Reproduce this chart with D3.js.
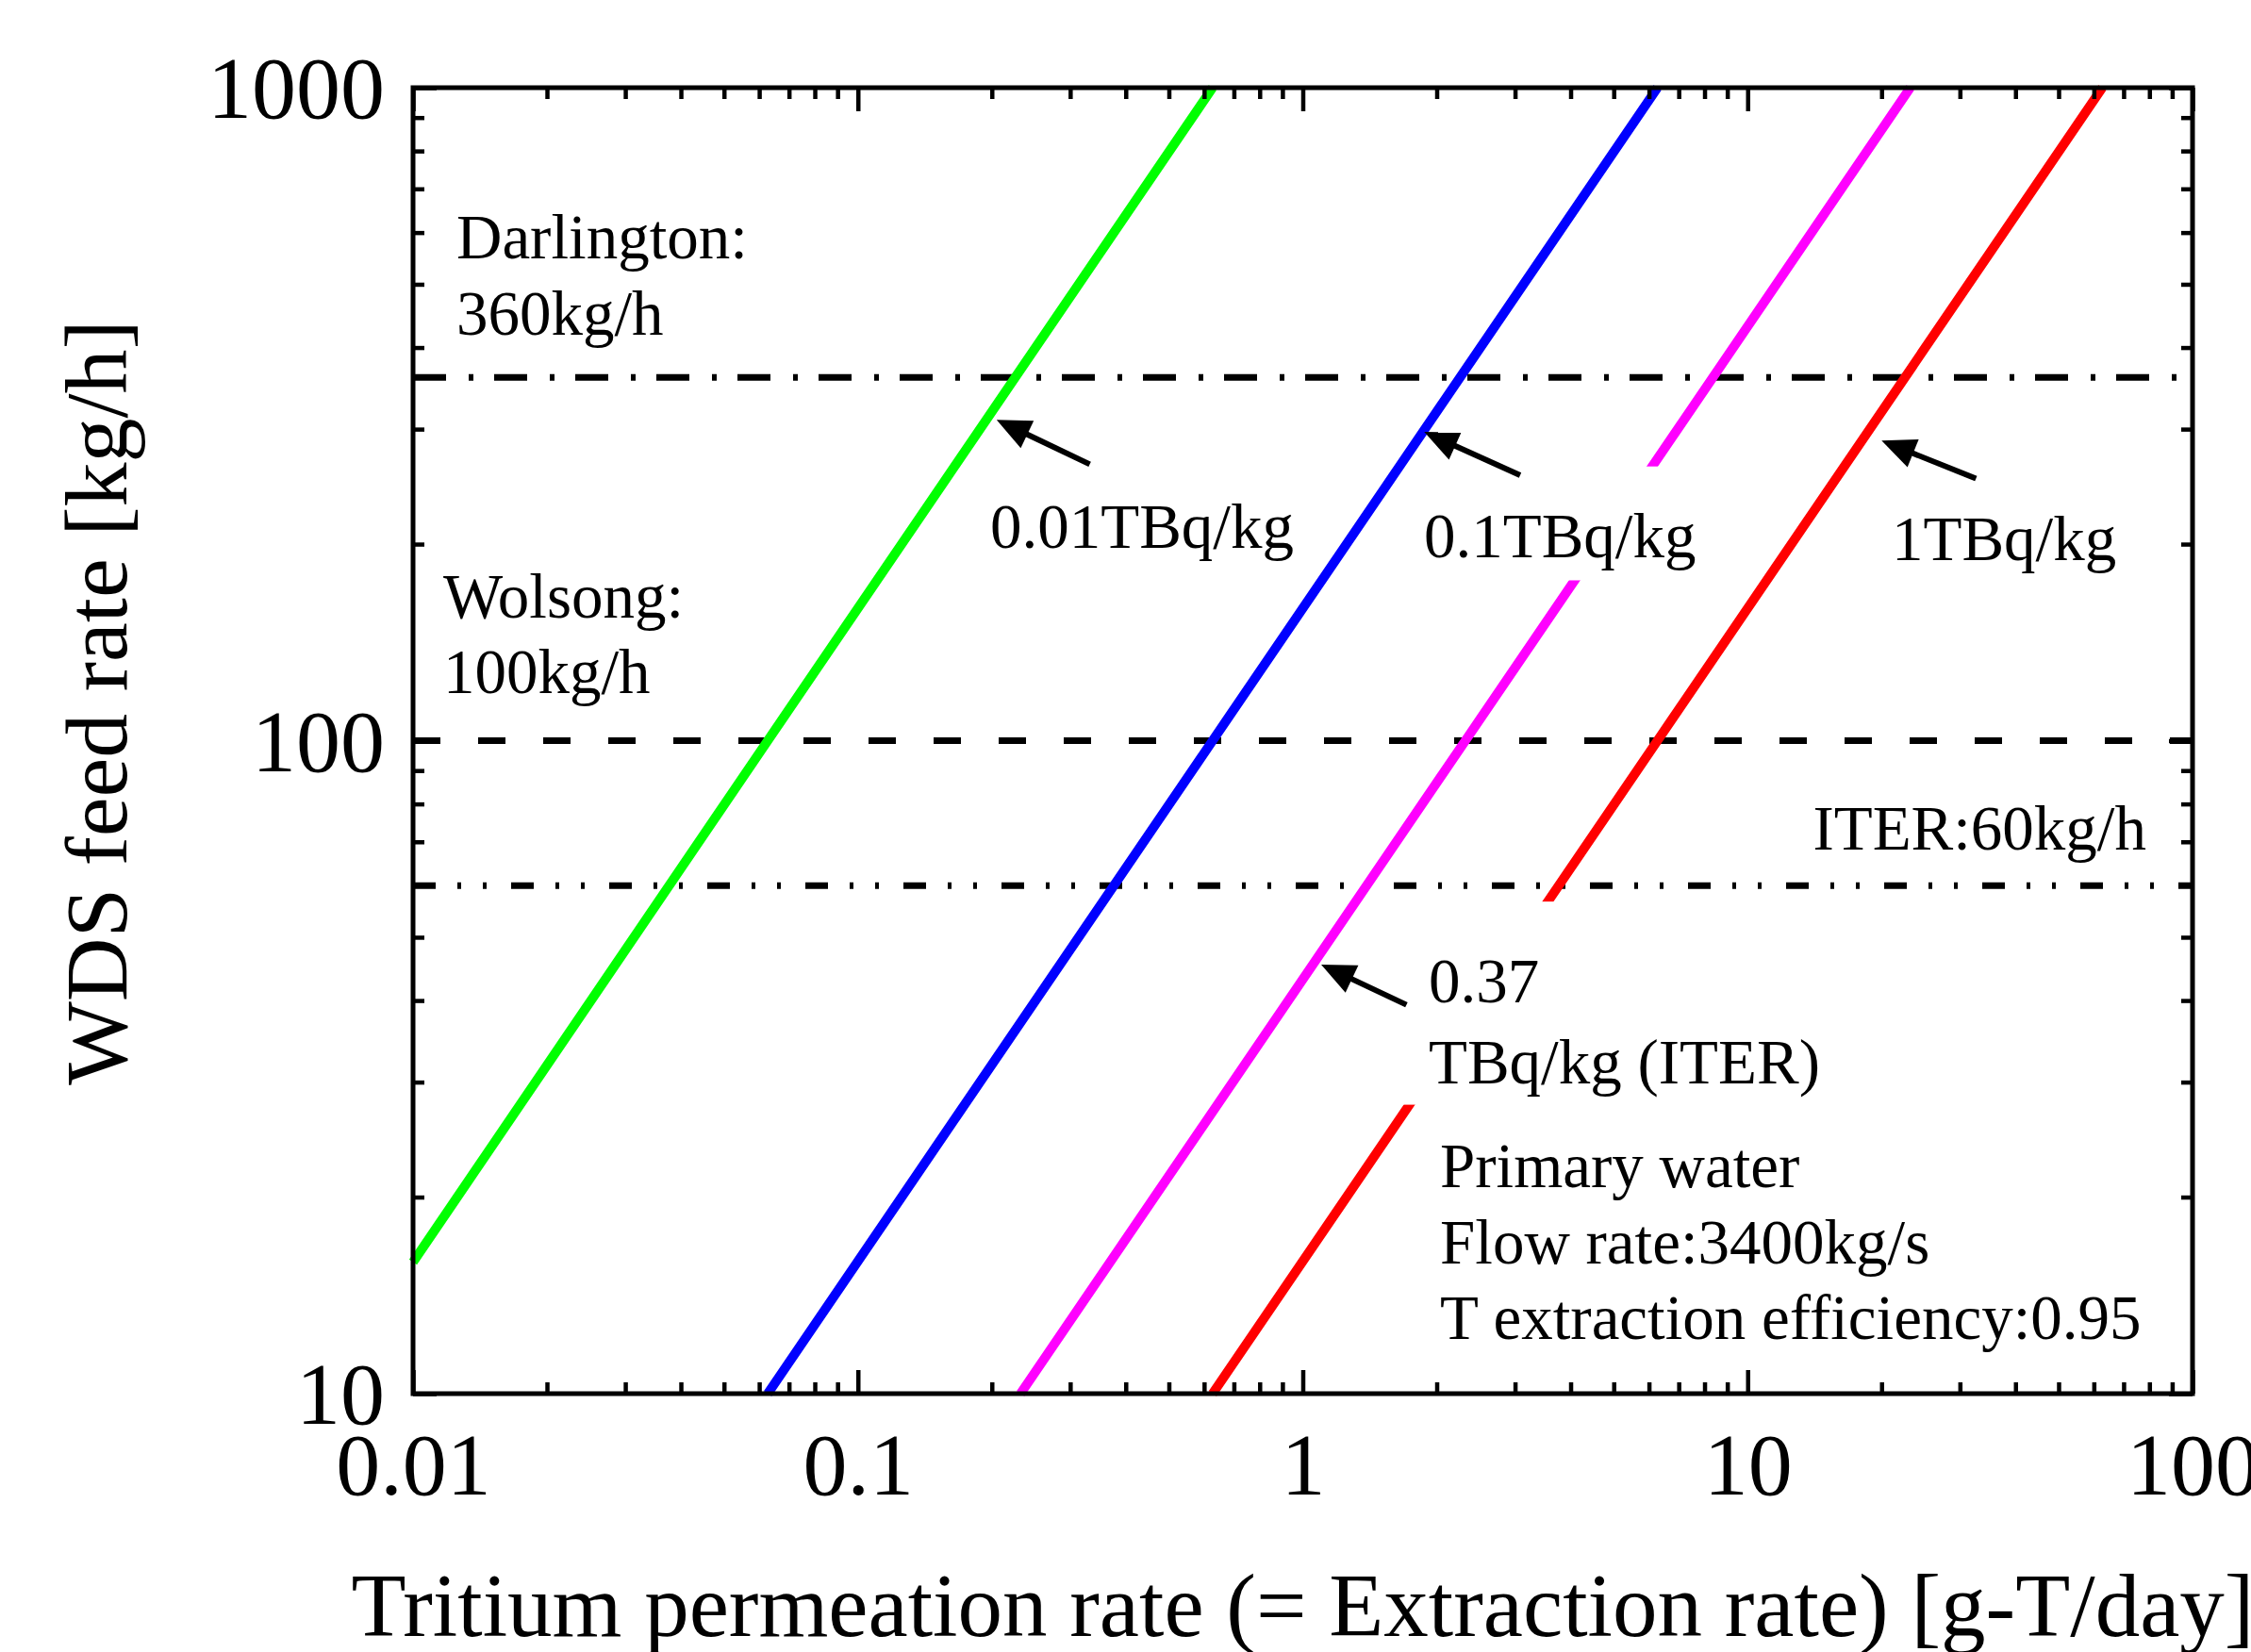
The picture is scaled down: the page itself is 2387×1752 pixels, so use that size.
<!DOCTYPE html>
<html>
<head>
<meta charset="utf-8">
<title>WDS feed rate vs tritium permeation rate</title>
<script src="https://d3js.org/d3.v7.min.js"></script>
<style>
    body { margin: 0; background: #fff; overflow: hidden; }
    svg { display: block; }
    text { font-family: "Liberation Serif", "Times New Roman", serif; fill: #000; }
</style>
</head>
<body>
<svg width="2387" height="1752"></svg>
<script>
// series: tritium permeation rate [g-T/day] vs WDS feed rate [kg/h], per tritium concentration
const rate001 = [0.01, 0.0627, 0.627];
const feed001 = [15.9, 100, 1000];
const rate01  = [0.0627, 0.627, 6.27];
const feed01  = [10, 100, 1000];
const rate037 = [0.232, 2.32, 23.2];
const feed037 = [10, 100, 1000];
const rate1   = [0.627, 6.27, 62.7];
const feed1   = [10, 100, 1000];

// reference feed rates
const refNames  = ['Darlington', 'Wolsong', 'ITER'];
const refValues = [360, 100, 60];

// axis ticks
const xMajor = [0.01, 0.1, 1, 10, 100];
const xLabels = ['0.01', '0.1', '1', '10', '100'];
const yMajor = [10, 100, 1000];
const yLabels = ['10', '100', '1000'];

let svg = d3.select('svg');
let margin = {top: 93, left: 438, right: 62, bottom: 274};
let width = 2387 - margin.left - margin.right;
let height = 1752 - margin.top - margin.bottom;

let g = svg.append('g')
    .attr('transform', `translate(${margin.left}, ${margin.top})`);

let x = d3.scaleLog().domain([0.01, 100]).range([0, width]);
let y = d3.scaleLog().domain([10, 1000]).range([height, 0]);

// minor ticks
let xMinor = [];
for (let d = 0.01; d < 99; d *= 10) for (let k = 2; k <= 9; k++) xMinor.push(+(d * k).toPrecision(3));
let yMinor = [];
for (let d = 10; d < 999; d *= 10) for (let k = 2; k <= 9; k++) yMinor.push(d * k);

// horizontal reference lines (drawn under the curves)
let refDash = {Darlington: '35 24 5 22', Wolsong: '29 40', ITER: '24 23 4 23 4 26'};
g.selectAll('.ref')
    .data(refNames)
    .join('line')
    .attr('class', 'ref')
    .attr('x1', 0).attr('x2', width)
    .attr('y1', (d, i) => y(refValues[i]))
    .attr('y2', (d, i) => y(refValues[i]))
    .style('stroke', '#000')
    .style('stroke-width', 7)
    .style('stroke-dasharray', d => refDash[d]);

// curves
let series = [
    {r: rate001, f: feed001, color: '#00ff00'},
    {r: rate01,  f: feed01,  color: '#0000ff'},
    {r: rate037, f: feed037, color: '#ff00ff'},
    {r: rate1,   f: feed1,   color: '#ff0000'}
];
let line = d3.line().x(d => x(d[0])).y(d => y(d[1]));
g.selectAll('.curve')
    .data(series)
    .join('path')
    .attr('class', 'curve')
    .attr('d', s => line(s.r.map((v, i) => [v, s.f[i]])))
    .style('fill', 'none')
    .style('stroke', s => s.color)
    .style('stroke-width', 10);

// white label boxes that break the lines (in data units)
let boxes = [
    {x0: 1.8, x1: 8.2, y0: 176, y1: 263},
    {x0: 1.65, x1: 17, y0: 27.7, y1: 56.7}
];
g.selectAll('.box')
    .data(boxes)
    .join('rect')
    .attr('x', d => x(d.x0))
    .attr('y', d => y(d.y1))
    .attr('width', d => x(d.x1) - x(d.x0))
    .attr('height', d => y(d.y0) - y(d.y1))
    .style('fill', '#fff');

// axes with inward ticks on every side
function styleAxis(sel) {
    sel.select('.domain').remove();
    sel.selectAll('line').style('stroke', '#000').style('stroke-width', 4.5);
}
g.append('g').attr('transform', `translate(0,${height})`)
    .call(d3.axisBottom(x).tickValues(xMinor).tickSizeInner(-12).tickFormat(''))
    .call(styleAxis);
g.append('g').call(d3.axisTop(x).tickValues(xMinor).tickSizeInner(-12).tickFormat(''))
    .call(styleAxis);
g.append('g').call(d3.axisLeft(y).tickValues(yMinor).tickSizeInner(-12).tickFormat(''))
    .call(styleAxis);
g.append('g').attr('transform', `translate(${width},0)`)
    .call(d3.axisRight(y).tickValues(yMinor).tickSizeInner(-12).tickFormat(''))
    .call(styleAxis);

let xAxis = g.append('g').attr('transform', `translate(0,${height})`)
    .call(d3.axisBottom(x).tickValues(xMajor).tickSizeInner(-25).tickPadding(40)
        .tickFormat((d, i) => xLabels[i]))
    .call(styleAxis);
xAxis.selectAll('text').style('font-size', '94px').style('font-family', '"Liberation Serif", serif');
g.append('g').call(d3.axisTop(x).tickValues(xMajor).tickSizeInner(-25).tickFormat(''))
    .call(styleAxis);

let yAxis = g.append('g')
    .call(d3.axisLeft(y).tickValues(yMajor).tickSizeInner(-25).tickPadding(30)
        .tickFormat((d, i) => yLabels[i]))
    .call(styleAxis);
yAxis.selectAll('text').style('font-size', '94px').style('font-family', '"Liberation Serif", serif')
    .attr('dy', '0.34em');
g.append('g').attr('transform', `translate(${width},0)`)
    .call(d3.axisRight(y).tickValues(yMajor).tickSizeInner(-25).tickFormat(''))
    .call(styleAxis);

// frame
g.append('rect')
    .attr('width', width).attr('height', height)
    .style('fill', 'none').style('stroke', '#000').style('stroke-width', 5);

// axis titles
svg.append('text')
    .attr('x', margin.left + width / 2)
    .attr('y', 1735)
    .attr('text-anchor', 'middle')
    .style('font-size', '95px')
    .text('Tritium permeation rate (= Extraction rate) [g-T/day]');
svg.append('text')
    .attr('transform', 'translate(134,745) rotate(-90)')
    .attr('text-anchor', 'middle')
    .style('font-size', '94px')
    .text('WDS feed rate [kg/h]');

// arrows (tip on the curve, tail near the label)
let arrows = [
    {tip: [0.205, 310], tail: [0.332, 265]},
    {tip: [1.875, 297], tail: [3.08, 255]},
    {tip: [20, 288], tail: [32.6, 252]},
    {tip: [1.10, 45.4], tail: [1.71, 39.4]}
];
arrows.forEach(a => {
    let tx = x(a.tip[0]), ty = y(a.tip[1]);
    let sx = x(a.tail[0]), sy = y(a.tail[1]);
    let ang = Math.atan2(ty - sy, tx - sx);
    let hl = 36, hw = 16;
    let bx = tx - hl * Math.cos(ang), by = ty - hl * Math.sin(ang);
    g.append('line')
        .attr('x1', sx).attr('y1', sy).attr('x2', bx + 4 * Math.cos(ang)).attr('y2', by + 4 * Math.sin(ang))
        .style('stroke', '#000').style('stroke-width', 6);
    let px = -Math.sin(ang) * hw, py = Math.cos(ang) * hw;
    g.append('path')
        .attr('d', `M${tx},${ty}L${bx + px},${by + py}L${bx - px},${by - py}Z`)
        .style('fill', '#000');
});

// labels (anchored in pixels of the whole picture)
let labels = [
    {t: 'Darlington:', x: 484, y: 274},
    {t: '360kg/h', x: 484, y: 355},
    {t: 'Wolsong:', x: 470, y: 655},
    {t: '100kg/h', x: 470, y: 735},
    {t: '0.01TBq/kg', x: 1050, y: 581},
    {t: '0.1TBq/kg', x: 1510, y: 591},
    {t: '1TBq/kg', x: 2006, y: 594},
    {t: 'ITER:60kg/h', x: 2276, y: 901, anchor: 'end'},
    {t: '0.37', x: 1515, y: 1063},
    {t: 'TBq/kg (ITER)', x: 1515, y: 1149},
    {t: 'Primary water', x: 1527, y: 1259},
    {t: 'Flow rate:3400kg/s', x: 1527, y: 1340},
    {t: 'T extraction efficiency:0.95', x: 1527, y: 1420}
];
svg.selectAll('.lbl')
    .data(labels)
    .join('text')
    .attr('class', 'lbl')
    .attr('x', d => d.x)
    .attr('y', d => d.y)
    .attr('text-anchor', d => d.anchor || 'start')
    .style('font-size', '67px')
    .text(d => d.t);
</script>
</body>
</html>
